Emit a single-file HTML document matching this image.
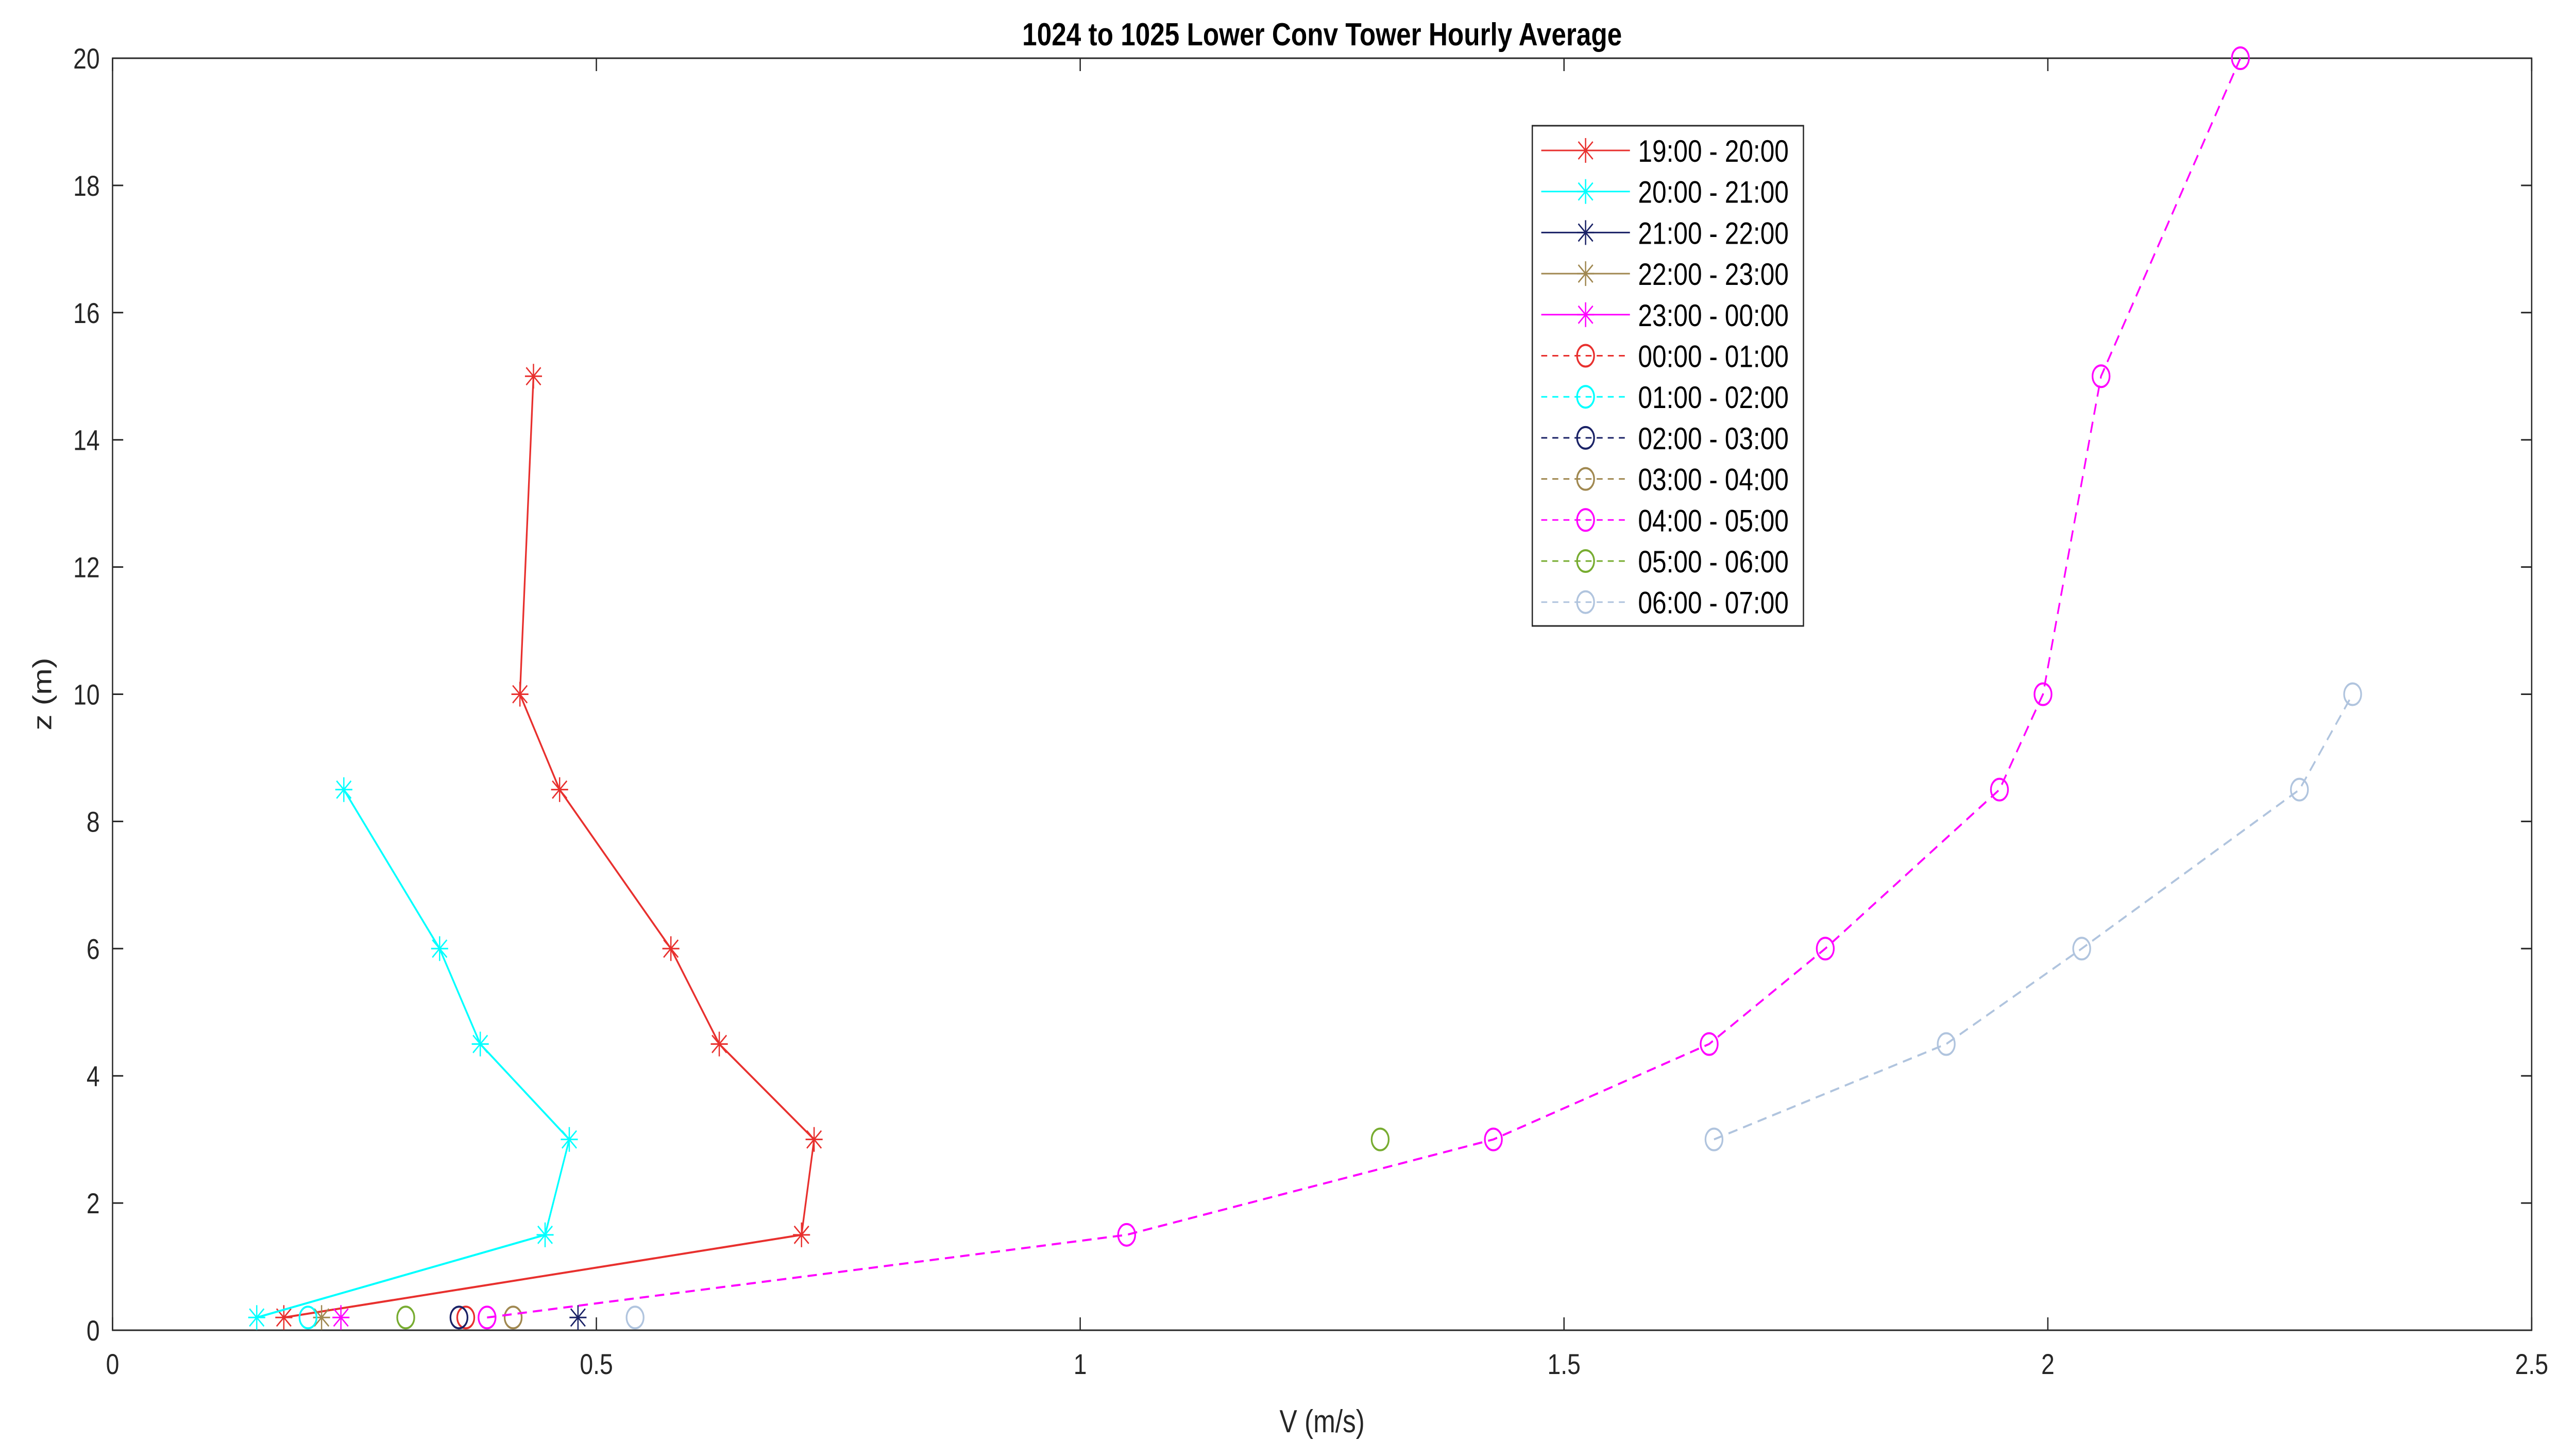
<!DOCTYPE html>
<html><head><meta charset="utf-8"><style>
html,body{margin:0;padding:0;background:#fff;width:100%;height:100%;overflow:hidden;}
svg{display:block;width:100vw;height:100vh;font-family:"Liberation Sans",Arial,sans-serif;}
</style></head><body>
<svg id="chart" viewBox="0 0 6042 2797" preserveAspectRatio="none" xmlns="http://www.w3.org/2000/svg">
<rect width="6042" height="2797" fill="#fff"/>
<g id="grid"></g>
<g id="series"></g>
<g id="legend"></g>
<text x="3101" y="88" text-anchor="middle" font-size="62" font-weight="bold" fill="#000">1024 to 1025 Lower Conv Tower Hourly Average</text>
<text x="3101" y="2780" text-anchor="middle" font-size="62" fill="#262626">V (m/s)</text>
<text x="120" y="1347" text-anchor="middle" font-size="62" fill="#262626" transform="rotate(-90 120 1347)">z (m)</text>
</svg>
<script>
const xTicks = [0, 0.5, 1, 1.5, 2, 2.5];
const yTicks = [0, 2, 4, 6, 8, 10, 12, 14, 16, 18, 20];
const labels = ["19:00 - 20:00","20:00 - 21:00","21:00 - 22:00","22:00 - 23:00","23:00 - 00:00","00:00 - 01:00","01:00 - 02:00","02:00 - 03:00","03:00 - 04:00","04:00 - 05:00","05:00 - 06:00","06:00 - 07:00"];
const colors = ["#e8302e","#00ffff","#1a2266","#a08850","#ff00ff","#e8302e","#00ffff","#1a2266","#a08850","#ff00ff","#77ac30","#b0c4de"];
const s0V = [0.177,0.712,0.725,0.627,0.577,0.462,0.421,0.435];
const s0Z = [0.2,1.5,3,4.5,6,8.5,10,15];
const s1V = [0.149,0.447,0.472,0.380,0.338,0.239];
const s1Z = [0.2,1.5,3,4.5,6,8.5];
const s2V = [0.481]; const s2Z = [0.2];
const s3V = [0.216]; const s3Z = [0.2];
const s4V = [0.236]; const s4Z = [0.2];
const s5V = [0.365]; const s5Z = [0.2];
const s6V = [0.202]; const s6Z = [0.2];
const s7V = [0.358]; const s7Z = [0.2];
const s8V = [0.414]; const s8Z = [0.2];
const s9V = [0.387,1.048,1.427,1.65,1.77,1.95,1.995,2.055,2.199];
const s9Z = [0.2,1.5,3,4.5,6,8.5,10,15,20];
const s10V = [0.303,1.31]; const s10Z = [0.2,3];
const s11V = [1.655,1.895,2.035,2.26,2.315];
const s11Z = [3,4.5,6,8.5,10];
const s11IsoV = [0.540]; const s11IsoZ = [0.2];

const seriesV=[s0V,s1V,s2V,s3V,s4V,s5V,s6V,s7V,s8V,s9V,[],s11V];
const seriesZ=[s0Z,s1Z,s2Z,s3Z,s4Z,s5Z,s6Z,s7Z,s8Z,s9Z,[],s11Z];
const L=264,R=5938,T=113,B=2582;
const xs=v=>L+(v-0)/(2.5-0)*(R-L);
const ys=z=>B-(z-0)/(20-0)*(B-T);
const NS="http://www.w3.org/2000/svg";
function mk(tag,attrs,parent){const e=document.createElementNS(NS,tag);for(const k in attrs)e.setAttribute(k,attrs[k]);parent.appendChild(e);return e;}
const ax=document.getElementById('grid');
let box=mk('rect',{x:L,y:T,width:R-L,height:B-T,fill:'none',stroke:'#262626','stroke-width':3},ax);


xTicks.forEach(t=>{
  const x=xs(t);
  let l=mk('line',{x1:x,x2:x,y1:B,y2:B-25,stroke:'#262626','stroke-width':3},ax);
  
  
  let l2=mk('line',{x1:x,x2:x,y1:T,y2:T+25,stroke:'#262626','stroke-width':3},ax);
  
  
  let tx=mk('text',{x:x,y:B+85,'text-anchor':'middle','font-size':56,fill:'#262626'},ax);
  tx.textContent=String(t);
  
  
});
yTicks.forEach(t=>{
  const y=ys(t);
  let l=mk('line',{x1:L,x2:L+25,y1:y,y2:y,stroke:'#262626','stroke-width':3},ax);
  
  
  let l2=mk('line',{x1:R,x2:R-25,y1:y,y2:y,stroke:'#262626','stroke-width':3},ax);
  
  
  let tx=mk('text',{x:L-30,y:y+20,'text-anchor':'end','font-size':56,fill:'#262626'},ax);
  tx.textContent=String(t);
  
  
});
function marker(g,i,x,y){
  const c=colors[i];
  if(i<5){
    const r=20;
    mk('line',{x1:x-r,x2:x+r,y1:y,y2:y,stroke:c,'stroke-width':3},g);
    mk('line',{x1:x,x2:x,y1:y-r*1.2,y2:y+r*1.2,stroke:c,'stroke-width':3},g);
    mk('line',{x1:x-r*0.85,x2:x+r*0.85,y1:y-r*0.85,y2:y+r*0.85,stroke:c,'stroke-width':3},g);
    mk('line',{x1:x-r*0.85,x2:x+r*0.85,y1:y+r*0.85,y2:y-r*0.85,stroke:c,'stroke-width':3},g);
  } else {
    mk('ellipse',{cx:x,cy:y,rx:20,ry:21,fill:'none',stroke:c,'stroke-width':4},g);
  }
}
const sg=document.getElementById('series');
function drawSeries(i,vs,zs,withLine){
  const g=mk('g',{},sg);
  
  
  if(withLine && vs.length>1){
    const pts=vs.map((v,j)=>xs(v)+','+ys(zs[j])).join(' ');
    const line=mk('polyline',{points:pts,fill:'none',stroke:colors[i],'stroke-width':4},g);
    if(i>=5) line.setAttribute('stroke-dasharray','22 14');
    
    
  }
  vs.forEach((v,j)=>marker(g,i,xs(v),ys(zs[j])));
}
seriesV.forEach((vs,i)=>drawSeries(i,vs,seriesZ[i],true));
// 05:00-06:00 points are not connected in the reference
drawSeries(10,s10V,s10Z,false);
drawSeries(11,s11IsoV,s11IsoZ,false);
const lg=document.getElementById('legend');
let lb=mk('rect',{x:3594,y:244,width:636,height:971,fill:'#fff',stroke:'#262626','stroke-width':3},lg);


labels.forEach((lab,i)=>{
  const y=292+i*79.7;
  const g=mk('g',{},lg);
  
  
  const ln=mk('line',{x1:3615,x2:3823,y1:y,y2:y,stroke:colors[i],'stroke-width':3},g);
  if(i>=5) ln.setAttribute('stroke-dasharray','14 12');
  marker(g,i,3719,y);
  const t=mk('text',{x:3842,y:y+22,'font-size':60,fill:'#000'},g);
  t.textContent=lab;
});
</script>
</body></html>
